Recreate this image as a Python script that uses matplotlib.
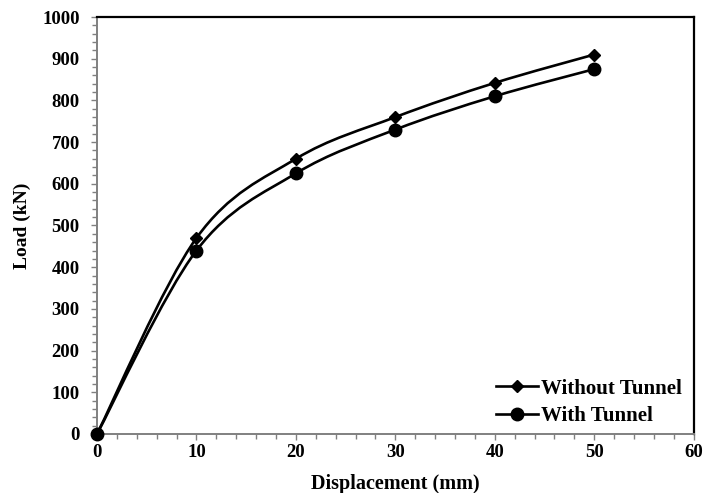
import numpy as np
import matplotlib.pyplot as plt
from matplotlib.path import Path
from matplotlib.patches import PathPatch
from matplotlib.lines import Line2D
from matplotlib.ticker import MultipleLocator

# data
displacement = [0, 10, 20, 30, 40, 50]
load_without = [0, 470, 660, 760, 842, 910]
load_with = [0, 440, 625, 730, 810, 875]

plt.rcParams['font.family'] = ['Liberation Serif', 'DejaVu Serif']
plt.rcParams['font.weight'] = 'bold'


def smooth_path(x, y):
    # Excel style smoothed line: cubic bezier through the points
    p = np.column_stack([x, y]).astype(float)
    pts = np.vstack([p[0], p, p[-1]])
    verts = [p[0]]
    codes = [Path.MOVETO]
    for i in range(1, len(pts) - 2):
        c1 = pts[i] + (pts[i + 1] - pts[i - 1]) / 6.0
        c2 = pts[i + 1] - (pts[i + 2] - pts[i]) / 6.0
        verts += [c1, c2, pts[i + 1]]
        codes += [Path.CURVE4] * 3
    return Path(verts, codes)


fig = plt.figure(figsize=(7.05, 4.93), dpi=100)
ax = fig.add_axes([0.1376, 0.1197, 0.8464, 0.8458])

for yv, mk, ms in [(load_without, 'D', 6.5), (load_with, 'o', 9)]:
    ax.add_patch(PathPatch(smooth_path(displacement, yv), fill=False,
                           edgecolor='black', linewidth=1.9, zorder=3))
    ax.plot(displacement, yv, linestyle='none', marker=mk, markersize=ms,
            color='black', zorder=4, clip_on=False)

ax.set_xlim(0, 60)
ax.set_ylim(0, 1000)
ax.xaxis.set_major_locator(MultipleLocator(10))
ax.xaxis.set_minor_locator(MultipleLocator(2))
ax.yaxis.set_major_locator(MultipleLocator(100))
ax.yaxis.set_minor_locator(MultipleLocator(20))

ax.tick_params(which='major', direction='out', length=4.5, width=1.0,
               color='#808080', labelsize=13.5, pad=3)
ax.tick_params(which='minor', direction='out', length=3.5, width=1.0,
               color='#808080')
ax.tick_params(axis='y', which='major', pad=8)
for lab in ax.get_xticklabels() + ax.get_yticklabels():
    lab.set_fontweight('bold')

for s in ['left', 'bottom']:
    ax.spines[s].set_color('#808080')
    ax.spines[s].set_linewidth(1.4)
for s in ['top', 'right']:
    ax.spines[s].set_color('black')
    ax.spines[s].set_linewidth(1.6)

ax.set_xlabel('Displacement (mm)', fontsize=14.5, fontweight='bold', labelpad=9)
ax.set_ylabel('Load (kN)', fontsize=14, fontweight='bold', labelpad=8)

handles = [
    Line2D([], [], color='black', linewidth=1.9, marker='D', markersize=6.5),
    Line2D([], [], color='black', linewidth=1.9, marker='o', markersize=9),
]
ax.legend(handles, ['Without Tunnel', 'With Tunnel'], loc='lower right',
          frameon=False, prop={'weight': 'bold', 'size': 15},
          handlelength=2.0, handletextpad=0.15, labelspacing=0.35,
          bbox_to_anchor=(1.012, -0.026))

fig.savefig('out.png', dpi=100)
